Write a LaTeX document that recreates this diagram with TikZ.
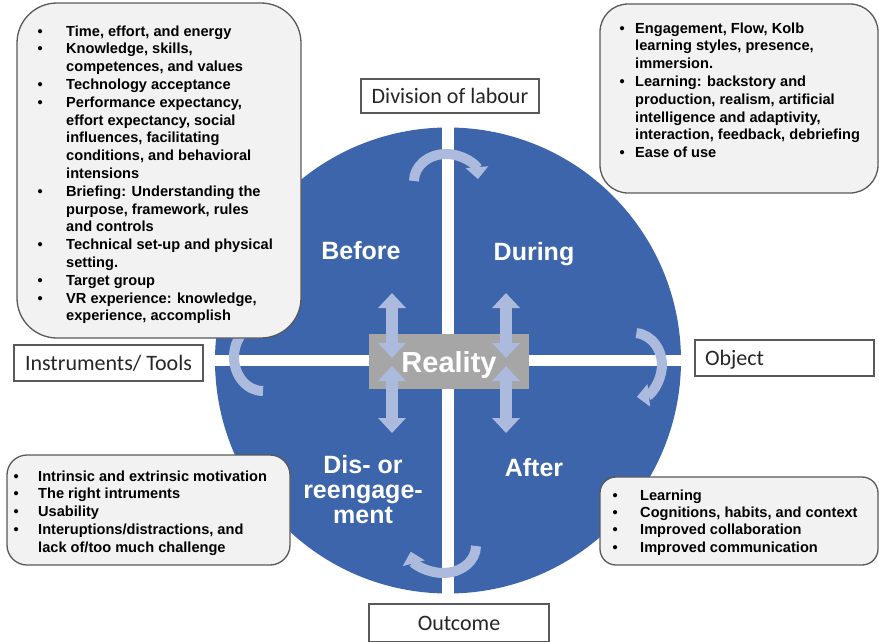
\documentclass[tikz,border=0pt]{standalone}
\usepackage{fontspec}
\setmainfont{Liberation Sans}
\newfontfamily\labelfont{Carlito}
\usetikzlibrary{arrows.meta,positioning}
\definecolor{circlecolor}{RGB}{61,101,171}
\definecolor{arccolor}{RGB}{171,186,221}
\definecolor{realitycolor}{RGB}{166,166,166}
\definecolor{notefill}{RGB}{242,242,242}
\definecolor{notedraw}{RGB}{89,89,89}
\definecolor{labelcolor}{RGB}{38,38,38}
\tikzset{
notebox/.style={
  draw=notedraw,
  line width=1.3pt,
  fill=notefill,
  inner sep=0pt
},
notetext/.style={
  anchor=base west,
  inner sep=0pt,
  font=\bfseries\fontsize{14.6}{17.8}\selectfont,
  text=black
},
labelbox/.style={
  draw=notedraw,
  line width=1.4pt,
  fill=white,
  inner sep=0pt,
  text height=14pt,
  text depth=0pt,
  font=\labelfont\fontsize{22}{26}\selectfont,
  text=labelcolor
},
phaselabel/.style={
  font=\bfseries\fontsize{25}{25}\selectfont,
  text=white,
  align=center
},
dblarrow/.style={
  {Triangle[width=27pt,length=15pt]}-{Triangle[width=27pt,length=15pt]},
  line width=12pt,
  draw=arccolor
},
cyclearrow/.style={
  -{Triangle[width=22pt,length=12pt]},
  line width=10pt,
  draw=arccolor
}
}
\begin{document}
\begin{tikzpicture}[x=1pt, y=-1pt]
    \useasboundingbox (0,0) rectangle (879,641);

    % Blue disc split into four phases
    \node[circle, fill=circlecolor, minimum size=466pt, inner sep=0pt] (cycle) at (448,360.5) {};
    \draw[white, line width=12pt] (cycle.north) -- (cycle.south);
    \draw[white, line width=11.5pt] (cycle.west) -- (cycle.east);

    % Centre
    \node[fill=realitycolor, minimum width=160pt, minimum height=55pt, inner sep=0pt,
      text height=21pt, text depth=0pt, text=white, font=\bfseries\fontsize{29}{30}\selectfont] (reality) at (449,361.5) {Reality};

    % Double arrows to and from the centre
    \coordinate (bftop) at (392,293);
    \coordinate (bfbot) at (392,358);
    \coordinate (dutop) at (506,293);
    \coordinate (dubot) at (506,358);
    \coordinate (ditop) at (392,366);
    \coordinate (dibot) at (392,433);
    \coordinate (aftop) at (506,366);
    \coordinate (afbot) at (506,433);
    \draw[dblarrow] (bftop) -- (bfbot);
    \draw[dblarrow] (dutop) -- (dubot);
    \draw[dblarrow] (ditop) -- (dibot);
    \draw[dblarrow] (aftop) -- (afbot);

    % Turning arrows between the phases
    \coordinate (topturn) at (414,181);
    \coordinate (rightturn) at (636.4,333.1);
    \coordinate (bottomturn) at (476,546);
    \coordinate (leftturn) at (263,391);
    \draw[cyclearrow] (topturn) arc[start angle=180, end angle=356, x radius=32, y radius=27];
    \draw[cyclearrow] (rightturn) arc[start angle=-85, end angle=84, x radius=28, y radius=32];
    \draw[cyclearrow] (bottomturn) arc[start angle=0, end angle=168, x radius=33, y radius=27];
    \draw[cyclearrow] (leftturn) arc[start angle=90, end angle=275, x radius=29, y radius=34];

    % Phase names
    \node[phaselabel] (before) at (361,251) {Before};
    \node[phaselabel, text depth=0pt] (during) at (534,251) {During};
    \node[phaselabel] (disengage) at (363,490) {Dis- or\\reengage-\\ment};
    \node[phaselabel] (after) at (534,468) {After};

    % Notes
    \node[notebox, rounded corners=40pt, minimum width=284pt, minimum height=335pt] (beforebox) at (159,170.5) {};
    \node[notetext] (beforetext) at (37.5,36) {%
      \begin{tabular}[t]{@{}l@{\hspace{23.4pt}}l@{}}
      \textbullet & Time, effort, and energy\\
      \textbullet & Knowledge, skills,\\
                  & competences, and values\\
      \textbullet & Technology acceptance\\
      \textbullet & Performance expectancy,\\
                  & effort expectancy, social\\
                  & influences, facilitating\\
                  & conditions, and behavioral\\
                  & intensions\\
      \textbullet & Briefing: Understanding the\\
                  & purpose, framework, rules\\
                  & and controls\\
      \textbullet & Technical set-up and physical\\
                  & setting.\\
      \textbullet & Target group\\
      \textbullet & VR experience: knowledge,\\
                  & experience, accomplish
      \end{tabular}};

    \node[notebox, rounded corners=28pt, minimum width=278pt, minimum height=189pt] (duringbox) at (739,98.5) {};
    \node[notetext] (duringtext) at (619.5,33) {%
      \begin{tabular}[t]{@{}l@{\hspace{10.4pt}}l@{}}
      \textbullet & Engagement, Flow, Kolb\\
                  & learning styles, presence,\\
                  & immersion.\\
      \textbullet & Learning: backstory and\\
                  & production, realism, artificial\\
                  & intelligence and adaptivity,\\
                  & interaction, feedback, debriefing\\
      \textbullet & Ease of use
      \end{tabular}};

    \node[notebox, rounded corners=20pt, minimum width=283pt, minimum height=110pt] (disbox) at (148.5,510) {};
    \node[notetext] (distext) at (13.5,481) {%
      \begin{tabular}[t]{@{}l@{\hspace{19.4pt}}l@{}}
      \textbullet & Intrinsic and extrinsic motivation\\
      \textbullet & The right intruments\\
      \textbullet & Usability\\
      \textbullet & Interuptions/distractions, and\\
                  & lack of/too much challenge
      \end{tabular}};

    \node[notebox, rounded corners=16pt, minimum width=278pt, minimum height=88pt] (afterbox) at (739,521) {};
    \node[notetext, font=\bfseries\fontsize{14.6}{17.4}\selectfont] (aftertext) at (612.5,500) {%
      \begin{tabular}[t]{@{}l@{\hspace{22.4pt}}l@{}}
      \textbullet & Learning\\
      \textbullet & Cognitions, habits, and context\\
      \textbullet & Improved collaboration\\
      \textbullet & Improved communication
      \end{tabular}};

    % Activity-system labels
    \node[labelbox, minimum width=178pt, minimum height=34pt] (labour) at (450,96) {Division of labour};
    \node[labelbox, minimum height=36pt, text width=159pt, inner xsep=10pt, align=left] (object) at (784.5,358) {Object};
    \node[labelbox, minimum width=189pt, minimum height=36pt] (tools) at (108.5,363) {Instruments/ Tools};
    \node[labelbox, minimum width=180pt, minimum height=38pt] (outcome) at (459,623) {Outcome};

\end{tikzpicture}
\end{document}
